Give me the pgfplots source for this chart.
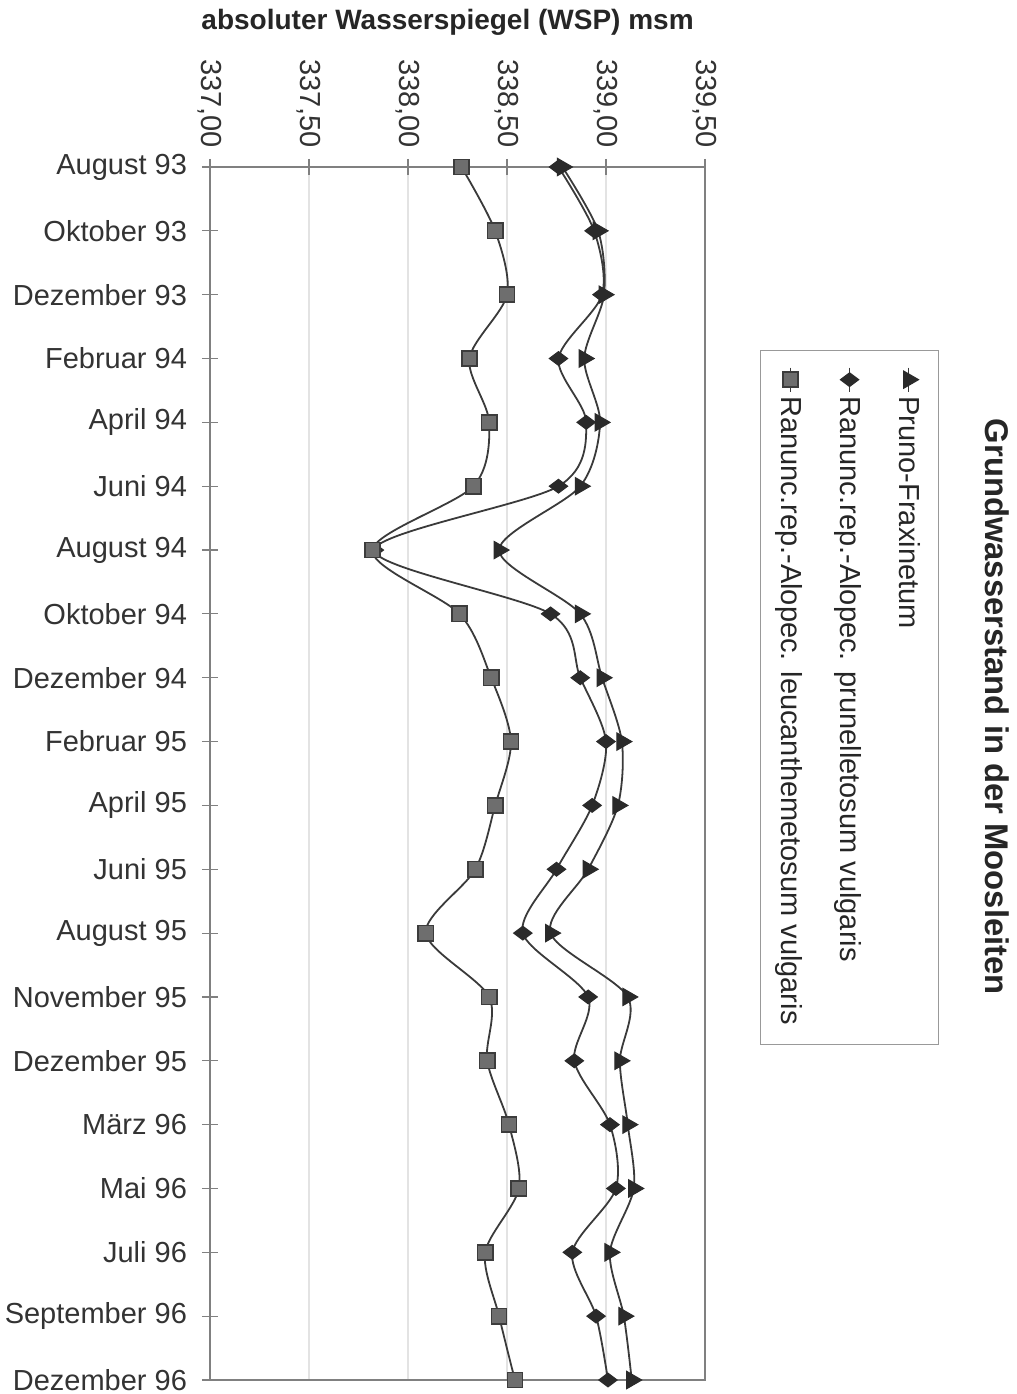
\documentclass[border=0pt]{standalone}
\usepackage{fontspec}
\setmainfont{Liberation Sans}
\usepackage{pgfplots}
\usepackage{pgfplotstable}
\pgfplotsset{compat=1.18}

\definecolor{linedark}{HTML}{3A3A3A}
\definecolor{markdark}{HTML}{2A2A2A}
\definecolor{sqfill}{HTML}{6E6E6E}
\definecolor{sqdraw}{HTML}{3C3C3C}

% groundwater levels (m a.s.l.) per sampling date
\pgfplotstableread{
idx pruno prunell leucanth
0  338.78 338.76 338.27
1  338.96 338.94 338.44
2  338.99 338.98 338.50
3  338.89 338.76 338.31
4  338.97 338.90 338.41
5  338.87 338.76 338.33
6  338.46 337.83 337.82
7  338.87 338.72 338.26
8  338.98 338.87 338.42
9  339.08 339.00 338.52
10 339.06 338.93 338.44
11 338.91 338.75 338.34
12 338.72 338.58 338.09
13 339.11 338.91 338.41
14 339.07 338.84 338.40
15 339.11 339.02 338.51
16 339.14 339.05 338.56
17 339.02 338.83 338.39
18 339.09 338.95 338.46
19 339.13 339.01 338.54
}\datatable

\newcommand{\lblfont}{\fontsize{14.5}{17}\selectfont}

\begin{document}
\begin{tikzpicture}[rotate=-90, transform shape]
\begin{axis}[
  scale only axis,
  width=606.5pt, height=247.5pt,
  xmin=0, xmax=19,
  ymin=337, ymax=339.5,
  xtick={0,...,19},
  xticklabels={August 93, Oktober 93, Dezember 93, Februar 94, April 94,
    Juni 94, August 94, Oktober 94, Dezember 94, Februar 95, April 95,
    Juni 95, August 95, November 95, Dezember 95, März 96, Mai 96,
    Juli 96, September 96, Dezember 96},
  xticklabel style={rotate=90, anchor=east, font=\lblfont, text=black!80},
  xticklabel shift=4pt,
  ytick={337,337.5,...,339.5},
  yticklabel style={font=\lblfont, text=black!80,
    /pgf/number format/.cd, fixed, fixed zerofill, precision=2, use comma,
    assume math mode=true},
  yticklabel shift=2pt,
  tick pos=left,
  tick align=center,
  major tick length=8pt,
  tick style={gray, line width=0.6pt},
  axis line style={gray, line width=0.7pt},
  ymajorgrids,
  major grid style={gray!22, line width=0.6pt},
  every axis y label/.style={at={(rel axis cs:-0.1195,0.48)}, rotate=90,
    anchor=center, font=\bfseries\fontsize{14}{16}\selectfont, text=black!85},
  ylabel={absoluter Wasserspiegel (WSP) msm},
  every axis title/.style={at={(rel axis cs:0.445,1.59)}, anchor=center,
    font=\bfseries\fontsize{16.4}{19}\selectfont, text=black!85},
  title={Grundwasserstand in der Moosleiten},
  legend style={at={(0.151,1.111)}, anchor=south west, draw=gray!80,
    line width=0.6pt, fill=white, font=\lblfont, text=black!85,
    inner xsep=8pt, inner ysep=7pt, row sep=13.5pt},
  legend cell align=left,
  legend image code/.code={
    \draw[mark repeat=2, mark phase=2, #1]
      plot coordinates {(0pt,0pt) (6pt,0pt) (12pt,0pt)};
  },
]
\addplot[smooth, color=linedark, line width=0.9pt,
  mark=triangle*, mark size=5pt,
  mark options={fill=markdark, draw=markdark, line width=0.5pt}]
  table[x=idx, y=pruno]{\datatable};
\addlegendentry{Pruno-Fraxinetum}
\addplot[smooth, color=linedark, line width=0.9pt,
  mark=diamond*, mark size=4.6pt,
  mark options={fill=markdark, draw=markdark, line width=0.5pt}]
  table[x=idx, y=prunell]{\datatable};
\addlegendentry{Ranunc.rep.-Alopec. prunelletosum vulgaris}
\addplot[smooth, color=linedark, line width=0.9pt,
  mark=square*, mark size=3.8pt,
  mark options={fill=sqfill, draw=sqdraw, line width=0.8pt}]
  table[x=idx, y=leucanth]{\datatable};
\addlegendentry{Ranunc.rep.-Alopec. leucanthemetosum vulgaris}
\end{axis}
% page frame around the chart area
\pgfresetboundingbox
\path[use as bounding box]
  ([xshift=-83.5pt, yshift=-105pt]current axis.south west)
  rectangle ([xshift=7pt, yshift=155.5pt]current axis.north east);
\end{tikzpicture}
\end{document}
